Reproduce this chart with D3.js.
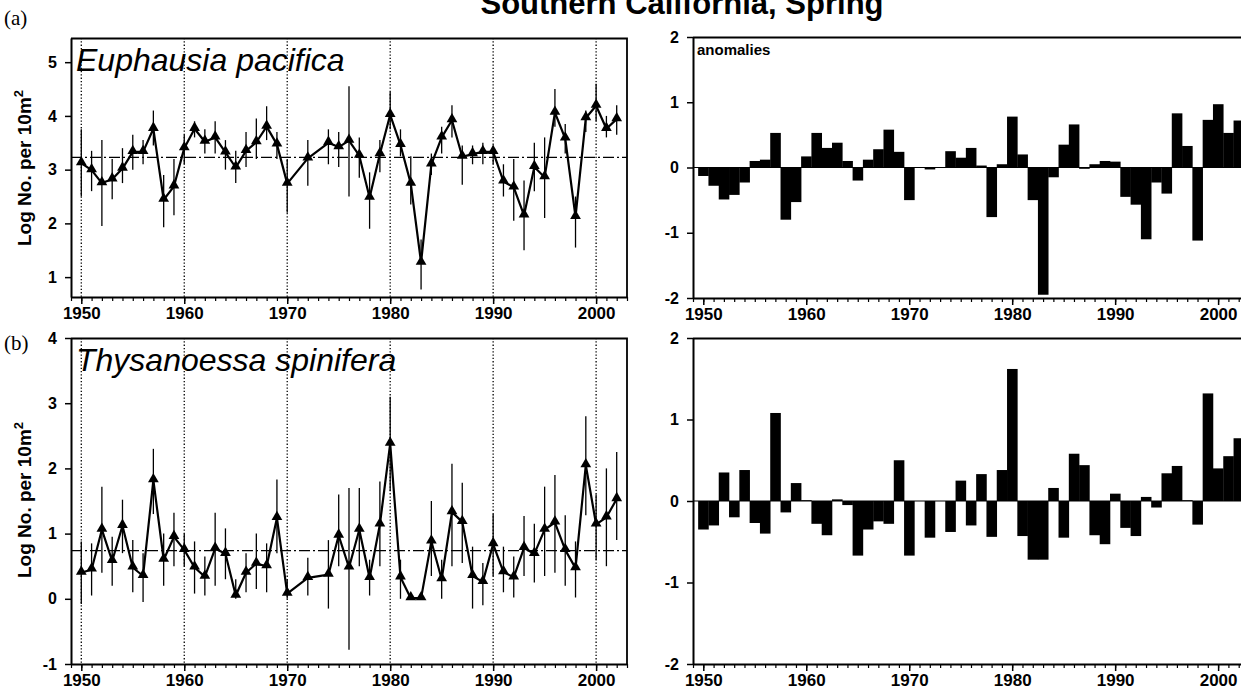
<!DOCTYPE html>
<html>
<head>
<meta charset="utf-8">
<script src="https://cdn.jsdelivr.net/npm/d3@7"></script>
<style>
  body { margin: 0; background: #fff; }
  svg { display: block; }
  text { font-family: "Liberation Sans", Arial, sans-serif; fill: #000; }
</style>
</head>
<body>
<svg id="fig" width="1241" height="692"></svg>
<script>
// years of the survey (1971 and 1973 have no spring data)
const years = [1950,1951,1952,1953,1954,1955,1956,1957,1958,1959,
               1960,1961,1962,1963,1964,1965,1966,1967,1968,1969,
               1970,1971,1972,1973,1974,1975,1976,1977,1978,1979,
               1980,1981,1982,1983,1984,1985,1986,1987,1988,1989,
               1990,1991,1992,1993,1994,1995,1996,1997,1998,1999,
               2000,2001,2002];
const decadeTicks = [1950, 1960, 1970, 1980, 1990, 2000];

// (a) Euphausia pacifica, log abundance with error bars
const epValue = [3.12,2.99,2.75,2.82,3.02,3.33,3.33,3.76,2.44,2.69,
                 3.40,3.76,3.52,3.60,3.32,3.04,3.35,3.51,3.80,3.47,
                 2.74,null,3.21,null,3.50,3.42,3.54,3.26,2.48,3.29,
                 4.02,3.46,2.74,1.27,3.10,3.60,3.92,3.24,3.29,3.33,
                 3.33,2.78,2.67,2.15,3.05,2.86,4.06,3.58,2.12,3.96,
                 4.19,3.76,3.94];
const epLow   = [2.50,2.60,1.95,2.45,2.75,3.00,3.10,3.45,1.93,2.15,
                 3.10,3.60,3.30,3.30,3.00,2.75,3.05,3.20,3.55,3.20,
                 2.20,null,2.70,null,3.10,3.05,2.50,2.85,1.90,2.95,
                 3.75,3.25,2.35,0.77,2.90,3.30,3.60,2.72,3.10,3.10,
                 3.10,2.50,2.05,1.50,2.60,2.10,3.80,3.30,1.55,3.70,
                 3.90,3.60,3.65];
const epHigh  = [3.75,3.35,3.55,3.20,3.40,3.65,3.55,4.10,2.90,3.20,
                 3.65,3.90,3.75,3.90,3.55,3.35,3.70,3.95,4.18,3.70,
                 3.20,null,3.55,null,3.75,3.70,4.55,3.60,2.95,3.55,
                 4.45,3.75,3.25,1.70,3.30,3.80,4.20,3.45,3.45,3.50,
                 3.45,3.10,3.20,2.80,3.50,3.60,4.50,3.85,2.50,4.10,
                 4.60,4.00,4.20];
const epMean = 3.23;
const epAnomaly = [-0.13,-0.28,-0.49,-0.42,-0.23,0.10,0.12,0.53,-0.80,-0.53,
                   0.17,0.53,0.30,0.38,0.10,-0.20,0.12,0.28,0.58,0.24,
                   -0.50,null,-0.03,null,0.25,0.15,0.30,0.03,-0.76,0.05,
                   0.78,0.20,-0.50,-1.95,-0.15,0.35,0.66,-0.02,0.05,0.10,
                   0.09,-0.45,-0.57,-1.10,-0.23,-0.40,0.83,0.33,-1.12,0.73,
                   0.97,0.53,0.72];

// (b) Thysanoessa spinifera
const tsValue = [0.40,0.45,1.06,0.58,1.12,0.48,0.35,1.82,0.60,0.95,
                 0.75,0.48,0.34,0.77,0.69,0.05,0.40,0.54,0.50,1.24,
                 0.08,null,0.32,null,0.37,0.97,0.48,1.06,0.32,1.14,
                 2.38,0.33,0.01,0.01,0.88,0.30,1.33,1.18,0.35,0.26,
                 0.84,0.41,0.33,0.78,0.69,1.06,1.17,0.75,0.47,2.05,
                 1.14,1.25,1.53];
const tsLow   = [-0.08,0.05,0.40,0.20,0.70,0.10,-0.05,1.30,0.20,0.50,
                 0.50,0.08,0.05,0.20,0.30,0.00,0.10,0.15,0.10,0.70,
                 0.00,null,0.05,null,-0.15,0.50,-0.78,0.50,0.05,0.50,
                 1.65,0.00,0.00,0.00,0.35,0.00,0.50,0.55,-0.15,-0.10,
                 0.35,0.10,0.02,0.35,0.25,0.35,0.40,0.20,0.02,1.28,
                 0.60,0.50,0.90];
const tsHigh  = [0.88,0.85,1.72,0.95,1.52,0.90,0.70,2.30,1.00,1.32,
                 1.00,0.88,0.65,1.32,1.08,0.30,0.70,1.00,0.85,1.83,
                 0.30,null,0.63,null,0.90,1.60,1.70,1.70,0.60,1.80,
                 3.10,0.60,0.05,0.05,1.50,0.60,2.07,1.78,0.80,0.55,
                 1.30,0.80,0.65,1.27,1.15,1.72,1.90,1.28,0.88,2.80,
                 1.60,2.00,2.25];
const tsMean = 0.74;
const tsAnomaly = [-0.35,-0.30,0.35,-0.20,0.38,-0.27,-0.40,1.08,-0.14,0.22,
                   0.01,-0.28,-0.42,0.02,-0.05,-0.67,-0.35,-0.25,-0.28,0.50,
                   -0.67,null,-0.45,null,-0.38,0.25,-0.30,0.33,-0.44,0.38,
                   1.62,-0.43,-0.72,-0.72,0.16,-0.45,0.58,0.44,-0.42,-0.53,
                   0.09,-0.33,-0.43,0.05,-0.08,0.34,0.43,0.01,-0.29,1.32,
                   0.40,0.55,0.77];

const svg = d3.select('#fig');

class SeriesPanel {
    constructor(config, data) {
        this.config = {
            left: config.left,
            top: config.top,
            width: config.width,
            height: config.height,
            ydomain: config.ydomain,
            yticks: config.yticks,
            label: config.label || '',
            grid: config.grid || false
        };
        this.data = data;
        this.init();
    }

    init() {
        let self = this;
        self.chart = svg.append('g')
            .attr('transform', `translate(${self.config.left}, ${self.config.top})`);

        self.xscale = d3.scaleLinear()
            .domain([1949, 2003])
            .range([0, self.config.width]);

        self.yscale = d3.scaleLinear()
            .domain(self.config.ydomain)
            .range([self.config.height, 0]);
    }

    frame() {
        let self = this;
        const w = self.config.width, h = self.config.height;

        if (self.config.grid) {
            self.chart.selectAll('.grid')
                .data(decadeTicks)
                .join('line')
                .attr('x1', d => self.xscale(d))
                .attr('x2', d => self.xscale(d))
                .attr('y1', 0)
                .attr('y2', h)
                .attr('stroke', '#000')
                .attr('stroke-width', 1.3)
                .attr('stroke-dasharray', '1.3,2');
        }

        // box: top and right edges
        self.chart.append('path')
            .attr('d', `M0,0.5H${w}V${h}`)
            .attr('fill', 'none')
            .attr('stroke', '#000')
            .attr('stroke-width', 1.8);

        // minor year ticks
        self.chart.append('g')
            .attr('transform', `translate(0, ${h})`)
            .call(d3.axisBottom(self.xscale).tickValues(d3.range(1949, 2004)).tickSize(4).tickFormat(''))
            .call(g => g.select('.domain').remove())
            .selectAll('line').attr('stroke-width', 1.2);

        self.xaxis_group = self.chart.append('g')
            .attr('transform', `translate(0, ${h})`)
            .call(d3.axisBottom(self.xscale).tickValues(decadeTicks).tickSize(7).tickSizeOuter(0).tickPadding(3).tickFormat(d => String(d)));
        self.xaxis_group.select('.domain').attr('stroke-width', 2);
        self.xaxis_group.selectAll('line').attr('stroke-width', 1.5);
        self.xaxis_group.selectAll('text')
            .style('font-size', '17px')
            .style('font-weight', 'bold');

        self.yaxis_group = self.chart.append('g')
            .call(d3.axisLeft(self.yscale).tickValues(self.config.yticks).tickSize(6).tickSizeOuter(0).tickPadding(8).tickFormat(d => String(d)));
        self.yaxis_group.select('.domain').attr('stroke-width', 2);
        self.yaxis_group.selectAll('line').attr('stroke-width', 1.5);
        self.yaxis_group.selectAll('text')
            .style('font-size', '16px')
            .style('font-weight', 'bold');
    }

    renderLine(mean) {
        let self = this;
        const pts = years.map((y, i) => ({year: y, v: self.data.value[i], lo: self.data.low[i], hi: self.data.high[i]}))
            .filter(d => d.v !== null);

        self.chart.append('line')
            .attr('x1', 0).attr('x2', self.config.width)
            .attr('y1', self.yscale(mean)).attr('y2', self.yscale(mean))
            .attr('stroke', '#000')
            .attr('stroke-width', 1.3)
            .attr('stroke-dasharray', '11,3,2,3');

        self.chart.selectAll('.err')
            .data(pts)
            .join('line')
            .attr('x1', d => self.xscale(d.year))
            .attr('x2', d => self.xscale(d.year))
            .attr('y1', d => self.yscale(d.lo))
            .attr('y2', d => self.yscale(d.hi))
            .attr('stroke', '#000')
            .attr('stroke-width', 1.3);

        const line = d3.line()
            .x(d => self.xscale(d.year))
            .y(d => self.yscale(d.v));

        self.chart.append('path')
            .attr('d', line(pts))
            .attr('fill', 'none')
            .attr('stroke', '#000')
            .attr('stroke-width', 2.2)
            .attr('stroke-linejoin', 'round');

        self.chart.selectAll('.pt')
            .data(pts)
            .join('path')
            .attr('d', d3.symbol(d3.symbolTriangle, 50))
            .attr('transform', d => `translate(${self.xscale(d.year)}, ${self.yscale(d.v) - 1})`)
            .attr('fill', '#000');

        self.chart.append('text')
            .attr('x', 5)
            .attr('y', 33)
            .style('font-size', '32px')
            .style('font-style', 'italic')
            .text(self.config.label);
    }

    renderBars() {
        let self = this;
        const pts = years.map((y, i) => ({year: y, v: self.data.anomaly[i]}))
            .filter(d => d.v !== null);

        self.chart.selectAll('.bar')
            .data(pts)
            .join('rect')
            .attr('x', d => self.xscale(d.year - 0.5))
            .attr('width', d => self.xscale(d.year + 0.5) - self.xscale(d.year - 0.5) + 0.3)
            .attr('y', d => self.yscale(Math.max(0, d.v)))
            .attr('height', d => Math.abs(self.yscale(d.v) - self.yscale(0)))
            .attr('fill', '#000');

        self.chart.append('line')
            .attr('x1', 0).attr('x2', self.config.width)
            .attr('y1', self.yscale(0)).attr('y2', self.yscale(0))
            .attr('stroke', '#000')
            .attr('stroke-width', 1.2);
    }
}

const pa = new SeriesPanel({left: 71, top: 38, width: 556, height: 259,
    ydomain: [0.63, 5.45], yticks: [1, 2, 3, 4, 5], label: 'Euphausia pacifica', grid: true},
    {value: epValue, low: epLow, high: epHigh});
pa.frame();
pa.renderLine(epMean);

const paBar = new SeriesPanel({left: 693, top: 37, width: 556, height: 261,
    ydomain: [-2, 2], yticks: [-2, -1, 0, 1, 2]},
    {anomaly: epAnomaly});
paBar.renderBars();
paBar.frame();
paBar.chart.append('text')
    .attr('x', 4).attr('y', 18)
    .style('font-size', '15px')
    .style('font-weight', 'bold')
    .text('anomalies');

const pb = new SeriesPanel({left: 71, top: 338, width: 556, height: 326,
    ydomain: [-1, 4], yticks: [-1, 0, 1, 2, 3, 4], label: 'Thysanoessa spinifera', grid: true},
    {value: tsValue, low: tsLow, high: tsHigh});
pb.frame();
pb.renderLine(tsMean);

const pbBar = new SeriesPanel({left: 693, top: 338, width: 556, height: 326,
    ydomain: [-2, 2], yticks: [-2, -1, 0, 1, 2]},
    {anomaly: tsAnomaly});
pbBar.renderBars();
pbBar.frame();

// y labels
[168, 500].forEach(cy => {
    svg.append('text')
        .attr('transform', `translate(31, ${cy}) rotate(-90)`)
        .attr('text-anchor', 'middle')
        .style('font-size', '19px')
        .style('font-weight', 'bold')
        .html('Log No. per 10m<tspan dy="-8" font-size="13px">2</tspan>');
});

// panel letters
svg.append('text').attr('x', 4).attr('y', 25)
    .style('font-family', '"Liberation Serif", "Times New Roman", serif')
    .style('font-size', '21px').text('(a)');
svg.append('text').attr('x', 4).attr('y', 350)
    .style('font-family', '"Liberation Serif", "Times New Roman", serif')
    .style('font-size', '21px').text('(b)');

// figure title, clipped at the top edge as in the source figure
svg.append('text')
    .attr('x', 682).attr('y', 14)
    .attr('text-anchor', 'middle')
    .style('font-size', '31px')
    .style('font-weight', 'bold')
    .text('Southern California, Spring');
</script>
</body>
</html>
